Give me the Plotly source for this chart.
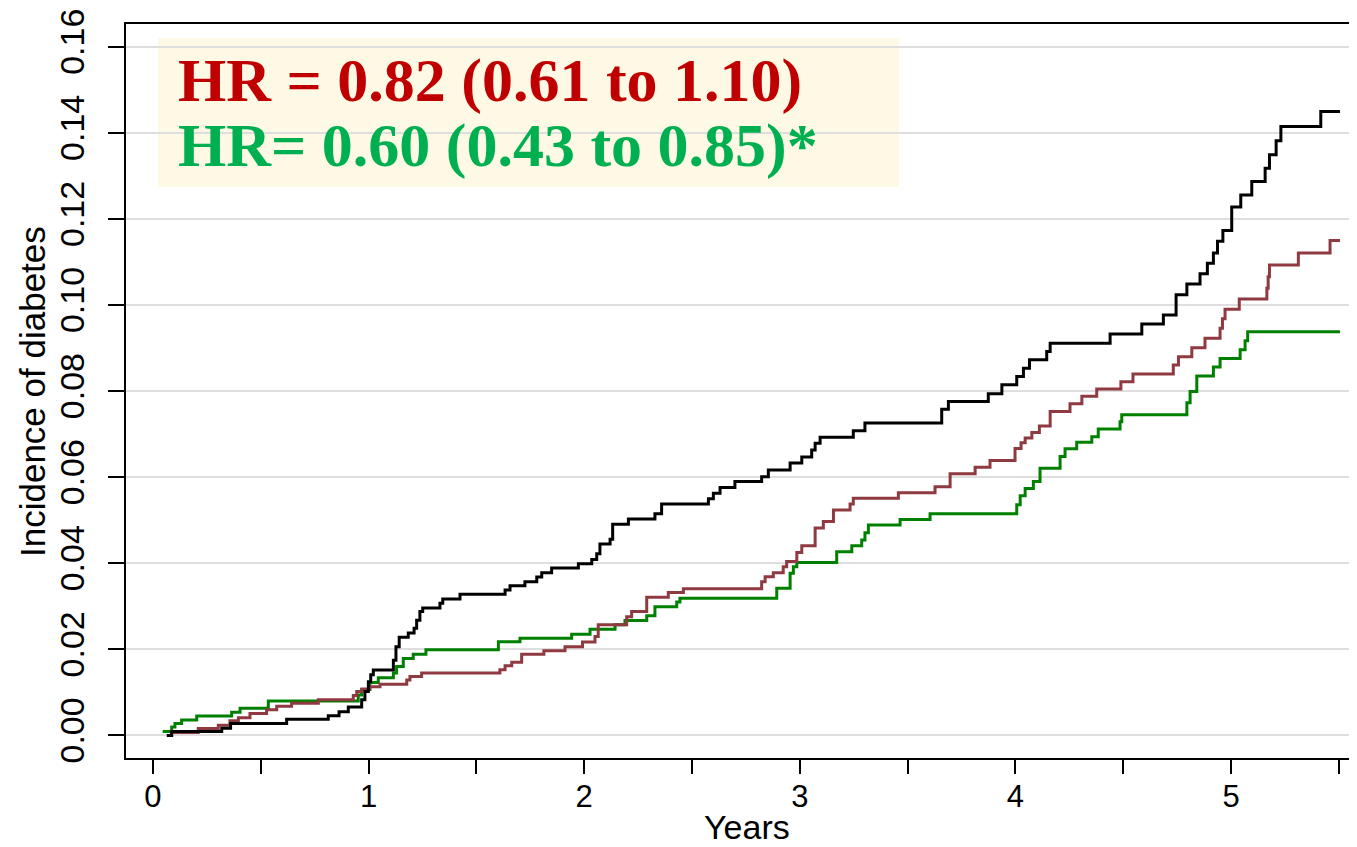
import plotly.graph_objects as go

# ---- data (years, cumulative incidence) ----
black_years = [0.064, 0.087, 0.319, 0.360, 0.620, 0.813, 0.863, 0.906, 0.968, 0.983,
               0.999, 1.010, 1.022, 1.115, 1.127, 1.142, 1.184, 1.211, 1.223, 1.238,
               1.251, 1.331, 1.344, 1.424, 1.633, 1.656, 1.725, 1.780, 1.803, 1.849,
               1.973, 2.035, 2.058, 2.073, 2.120, 2.132, 2.205, 2.328, 2.359, 2.576,
               2.599, 2.630, 2.699, 2.823, 2.854, 2.955, 3.009, 3.055, 3.071, 3.094,
               3.248, 3.302, 3.658, 3.689, 3.874, 3.937, 4.006, 4.037, 4.065, 4.145,
               4.161, 4.439, 4.586, 4.686, 4.745, 4.795, 4.856, 4.890, 4.918, 4.937,
               4.962, 5.003, 5.045, 5.096, 5.158, 5.178, 5.209, 5.231, 5.416, 5.505]
black_inc = [0.0000, 0.0009, 0.0017, 0.0028, 0.0038, 0.0046, 0.0055, 0.0066, 0.0083, 0.0102,
             0.0125, 0.0141, 0.0152, 0.0175, 0.0206, 0.0228, 0.0238, 0.0249, 0.0268, 0.0288,
             0.0296, 0.0307, 0.0317, 0.0328, 0.0338, 0.0348, 0.0357, 0.0368, 0.0378, 0.0389,
             0.0399, 0.0409, 0.0422, 0.0445, 0.0456, 0.0491, 0.0503, 0.0515, 0.0538, 0.0550,
             0.0563, 0.0576, 0.0590, 0.0601, 0.0617, 0.0633, 0.0647, 0.0663, 0.0679, 0.0693,
             0.0708, 0.0726, 0.0758, 0.0776, 0.0794, 0.0815, 0.0834, 0.0853, 0.0873, 0.0892,
             0.0911, 0.0933, 0.0956, 0.0977, 0.1024, 0.1049, 0.1073, 0.1097, 0.1121, 0.1148,
             0.1173, 0.1228, 0.1256, 0.1287, 0.1318, 0.1349, 0.1382, 0.1415, 0.1450, 0.1450]

red_years = [0.079, 0.210, 0.303, 0.357, 0.396, 0.450, 0.527, 0.574, 0.643, 0.767,
             0.929, 0.945, 0.969, 1.006, 1.053, 1.177, 1.192, 1.246, 1.609, 1.633,
             1.664, 1.710, 1.813, 1.911, 1.992, 2.050, 2.065, 2.197, 2.220, 2.290,
             2.390, 2.460, 2.823, 2.839, 2.877, 2.923, 2.939, 2.986, 3.009, 3.071,
             3.109, 3.156, 3.233, 3.248, 3.457, 3.627, 3.697, 3.813, 3.882, 3.998,
             4.026, 4.045, 4.076, 4.111, 4.161, 4.253, 4.308, 4.377, 4.489, 4.545,
             4.732, 4.756, 4.818, 4.879, 4.949, 4.960, 4.972, 5.038, 5.166, 5.172,
             5.178, 5.312, 5.459, 5.505]
red_inc = [0.0007, 0.0016, 0.0024, 0.0034, 0.0041, 0.0051, 0.0060, 0.0068, 0.0075, 0.0083,
           0.0093, 0.0102, 0.0108, 0.0113, 0.0119, 0.0129, 0.0137, 0.0145, 0.0153, 0.0162,
           0.0170, 0.0189, 0.0197, 0.0206, 0.0217, 0.0230, 0.0257, 0.0276, 0.0288, 0.0321,
           0.0332, 0.0341, 0.0357, 0.0369, 0.0378, 0.0392, 0.0404, 0.0425, 0.0441, 0.0482,
           0.0497, 0.0524, 0.0538, 0.0551, 0.0564, 0.0578, 0.0608, 0.0623, 0.0639, 0.0667,
           0.0680, 0.0691, 0.0704, 0.0719, 0.0753, 0.0771, 0.0788, 0.0805, 0.0822, 0.0840,
           0.0861, 0.0880, 0.0901, 0.0923, 0.0946, 0.0968, 0.0990, 0.1014, 0.1039, 0.1066,
           0.1093, 0.1121, 0.1150, 0.1150]

green_years = [0.045, 0.087, 0.102, 0.133, 0.203, 0.365, 0.404, 0.535, 0.952, 0.968,
               1.006, 1.045, 1.115, 1.130, 1.161, 1.207, 1.266, 1.602, 1.702, 1.942,
               2.027, 2.143, 2.189, 2.290, 2.328, 2.429, 2.444, 2.893, 2.955, 2.970,
               2.986, 3.171, 3.241, 3.287, 3.302, 3.318, 3.465, 3.604, 4.006, 4.022,
               4.045, 4.083, 4.114, 4.207, 4.230, 4.284, 4.354, 4.384, 4.485, 4.493,
               4.795, 4.810, 4.841, 4.918, 4.949, 5.042, 5.065, 5.077, 5.505]
green_inc = [0.0009, 0.0020, 0.0028, 0.0036, 0.0045, 0.0054, 0.0063, 0.0080, 0.0094, 0.0107,
             0.0123, 0.0134, 0.0145, 0.0160, 0.0179, 0.0189, 0.0199, 0.0218, 0.0226, 0.0235,
             0.0247, 0.0257, 0.0267, 0.0278, 0.0299, 0.0310, 0.0319, 0.0342, 0.0377, 0.0392,
             0.0402, 0.0427, 0.0441, 0.0454, 0.0471, 0.0489, 0.0502, 0.0515, 0.0536, 0.0557,
             0.0574, 0.0590, 0.0621, 0.0648, 0.0666, 0.0681, 0.0694, 0.0712, 0.0729, 0.0745,
             0.0773, 0.0799, 0.0835, 0.0856, 0.0876, 0.0896, 0.0917, 0.0938, 0.0938]

x_tickvals = [0, 0.5, 1, 1.5, 2, 2.5, 3, 3.5, 4, 4.5, 5, 5.5]
x_ticktext = ["0", "", "1", "", "2", "", "3", "", "4", "", "5", ""]
y_tickvals = [0.00, 0.02, 0.04, 0.06, 0.08, 0.10, 0.12, 0.14, 0.16]
y_ticktext = ["0.00", "0.02", "0.04", "0.06", "0.08", "0.10", "0.12", "0.14", "0.16"]

x_title = "Years"
y_title = "Incidence of diabetes"
hr_line1 = "HR = 0.82 (0.61 to 1.10)"
hr_line2 = "HR= 0.60 (0.43 to 0.85)*"

# plot-area geometry in page pixels; the page body adds an 8 px offset
OFF = 8
L, R, T, B = 126, 1357, 24, 758
W, H = R - L, B - T

def px_x(p):
    return (p - L) / W

def px_y(p):
    return (B - p) / H

fig = go.Figure()
for yrs, inc, col, name in [
    (green_years, green_inc, "#008000", "Group C"),
    (red_years, red_inc, "#8E3A40", "Group B"),
    (black_years, black_inc, "#000000", "Group A"),
]:
    fig.add_trace(go.Scatter(x=yrs, y=inc, mode="lines", line_shape="hv",
                             line=dict(color=col, width=3), name=name,
                             showlegend=False))

sans = "Liberation Sans, Arial, Helvetica, sans-serif"
serif = "Liberation Serif, Times New Roman, serif"

fig.update_layout(
    width=1357, height=847,
    margin=dict(l=L - OFF, r=1357 - (R - OFF), t=T - OFF, b=847 - (B - OFF),
                autoexpand=False),
    paper_bgcolor="white", plot_bgcolor="white",
    xaxis=dict(range=[-0.125, 5.584], tickvals=x_tickvals, ticktext=x_ticktext,
               automargin=False,
               showgrid=False, zeroline=False, showline=True, linecolor="black",
               linewidth=2, mirror=True, ticks="outside", ticklen=14, tickwidth=2,
               ticklabelstandoff=-4,
               tickcolor="black", tickfont=dict(family=sans, size=31, color="black")),
    yaxis=dict(range=[-0.00523, 0.1653], tickvals=y_tickvals, ticktext=y_ticktext,
               automargin=False,
               showgrid=True, gridcolor="#DEDEDE", gridwidth=2, zeroline=False,
               showline=True, linecolor="black", linewidth=2, ticks="outside",
               ticklen=16, tickwidth=2, tickcolor="black", tickangle=-90,
               ticklabelstandoff=10,
               tickfont=dict(family=sans, size=34, color="black")),
    shapes=[dict(type="rect", xref="paper", yref="paper",
                 x0=px_x(158), x1=px_x(899), y0=px_y(187), y1=px_y(38),
                 fillcolor="#FEF9E5", line=dict(width=0), layer="below")],
    annotations=[
        dict(text="<b>" + hr_line1 + "</b>", xref="paper", yref="paper",
             x=px_x(176), y=px_y(81), xanchor="left", yanchor="middle",
             showarrow=False, font=dict(family=serif, size=62, color="#C00000")),
        dict(text="<b>" + hr_line2 + "</b>", xref="paper", yref="paper",
             x=px_x(176), y=px_y(145), xanchor="left", yanchor="middle",
             showarrow=False, font=dict(family=serif, size=62, color="#00B050")),
        dict(text=x_title, xref="paper", yref="paper", x=px_x(747), y=px_y(827),
             xanchor="center", yanchor="middle", showarrow=False,
             font=dict(family=sans, size=34, color="black")),
        dict(text=y_title, xref="paper", yref="paper", x=px_x(32), y=px_y(392),
             xanchor="center", yanchor="middle", textangle=-90, showarrow=False,
             font=dict(family=sans, size=35, color="black")),
    ],
)

fig.write_html("out.html")
